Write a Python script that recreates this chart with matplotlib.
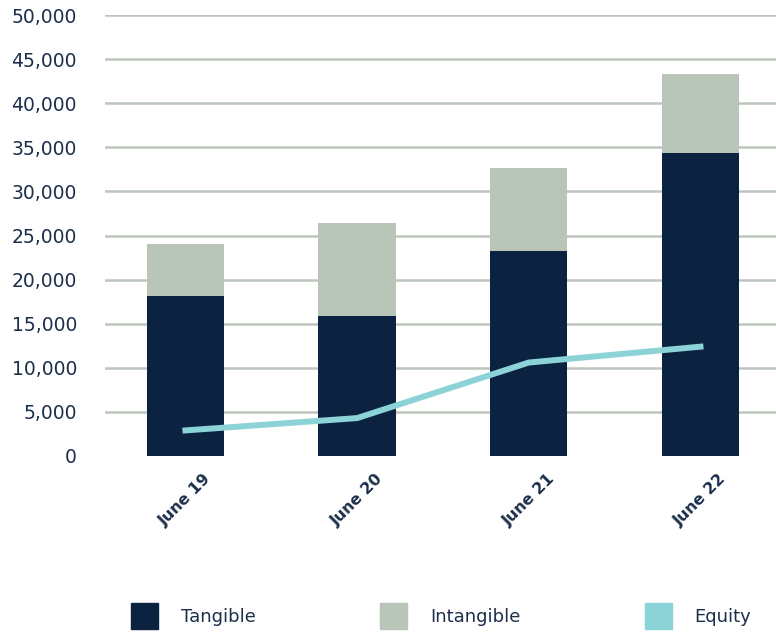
import matplotlib.pyplot as plt
from matplotlib.patches import Patch
import numpy as np

# balance sheet split per year
periods = ["June 19", "June 20", "June 21", "June 22"]
tangible = [18100, 15900, 23200, 34400]
intangible = [5900, 10500, 9500, 8900]
equity = [2900, 4300, 10600, 12400]

navy = "#0b2341"
sage = "#b9c5b9"
teal = "#8cd3d8"
text_col = "#1c2f4a"

fig = plt.figure(figsize=(7.76, 6.32), dpi=100)
ax = fig.add_axes([0.135, 0.2785, 0.865, 0.6975])

x = np.arange(len(periods))
ax.bar(x, tangible, width=0.45, color=navy, zorder=3)
ax.bar(x, intangible, width=0.45, bottom=tangible, color=sage, zorder=3)
ax.plot(x, equity, color=teal, linewidth=4.3, solid_capstyle="projecting", zorder=4)

ax.set_xlim(-0.47, 3.44)
ax.set_ylim(0, 50000)
ax.set_yticks(np.arange(0, 50001, 5000))
ax.set_yticklabels(["0"] + [f"{v:,}" for v in range(5000, 50001, 5000)])
ax.set_xticks(x)
ax.set_xticklabels(periods, rotation=45, fontweight="heavy")

ax.grid(axis="y", color="#bdc6bc", linewidth=1.8, zorder=0)
ax.get_ygridlines()[0].set_visible(False)
for s in ax.spines.values():
    s.set_visible(False)
ax.tick_params(axis="y", length=0, pad=20, labelsize=13.5, labelcolor=text_col)
ax.tick_params(axis="x", length=0, pad=11, labelsize=11.3, labelcolor=text_col)

handles = [Patch(color=navy, label="Tangible"),
           Patch(color=sage, label="Intangible"),
           Patch(color=teal, label="Equity")]
fig.legend(handles=handles, loc="center left", bbox_to_anchor=(131 / 776, 1 - 616 / 632),
           ncol=3, frameon=False, fontsize=13, labelcolor=text_col,
           handlelength=1.5, handleheight=1.85, handletextpad=1.25,
           columnspacing=6.9, borderpad=0, borderaxespad=0)

fig.savefig("out.png", dpi=100)
